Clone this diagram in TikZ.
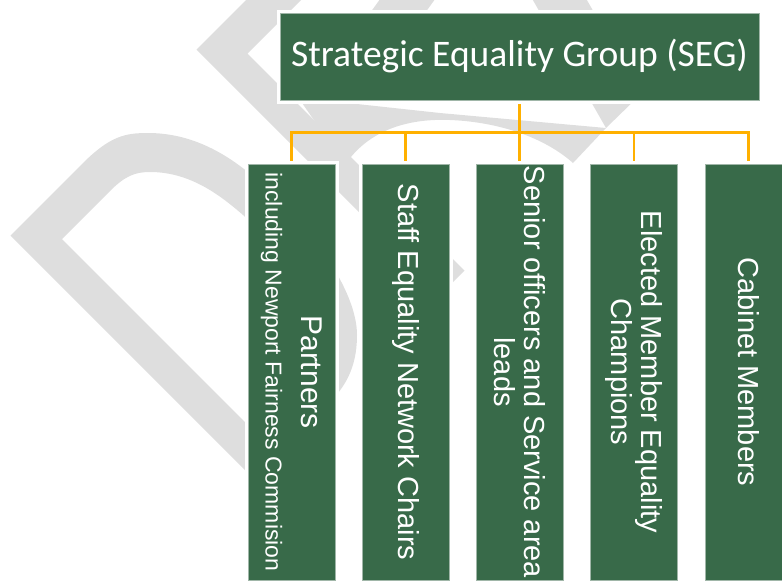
\documentclass[tikz,border=0pt]{standalone}
\usepackage{fontspec}
\setmainfont{Liberation Sans}
\newfontfamily\segfont{Carlito}
\definecolor{segGreen}{RGB}{56,106,73}
\definecolor{segEdge}{RGB}{160,182,168}
\definecolor{linkGold}{RGB}{255,176,0}
\definecolor{markGray}{RGB}{222,222,222}
\pgfdeclarelayer{background}
\pgfsetlayers{background,main}

\begin{document}
\begin{tikzpicture}[x=1pt,y=-1pt]
\tikzstyle{box} = [fill=segGreen,draw=segEdge,line width=0.6pt,preaction={draw=white,line width=7pt},text=white,inner sep=0pt]
\tikzstyle{col} = [box,rotate=-90,minimum width=416pt,minimum height=87pt,align=center,font=\fontsize{29}{30}\selectfont]
\tikzstyle{link} = [draw=linkGold,line width=2.6pt]
\useasboundingbox (0,0) rectangle (782,582);

%%%%%% Top box
\node[box,minimum width=479pt,minimum height=87pt,font=\segfont\fontsize{37.5}{40}\selectfont] (seg) at (519.5,56.5) {Strategic Equality Group (SEG)};

%%%%%% Columns
\node[col] (c1) at (291.5,372) {{\fontsize{30}{30}\selectfont Partners}\\[6pt]{\fontsize{23}{30}\selectfont including Newport Fairness Commision}};
\node[col] (c2) at (405.5,372) {Staff Equality Network Chairs};
\node[col] (c3) at (519.5,372) {Senior officers and Service area\\leads};
\node[col] (c4) at (634,372) {Elected Member Equality\\Champions};
\node[col] (c5) at (748.5,372) {Cabinet Members};

\begin{pgfonlayer}{background}
%%%%%% Watermark
\begin{scope}
\clip (0,0) rectangle (782,582);
% D
\fill[markGray,even odd rule] (10.5,235.5) -- (82,164) .. controls (110,136) and (125,133) .. (148,133) .. controls (190,133) and (225,152) .. (255,178) .. controls (310,225) and (357,290) .. (357,335) .. controls (357,360) and (350,378) .. (338,393) -- (255,480) -- cycle
  (62,239) -- (110,191) .. controls (125,176) and (135,172) .. (150,172) .. controls (190,172) and (220,195) .. (243,215) .. controls (275,245) and (305,300) .. (303,340) .. controls (302,360) and (296,375) .. (285,395) -- (251.5,428.5) -- cycle;
% R
\fill[markGray] (196.5,49.5) -- (251,-5) -- (306,-5) -- (247.5,53.5) -- (464.5,270.5) -- (441,294) -- cycle;
\fill[markGray] (383,-5) -- (438,-5) -- (420,20) -- (365,20) -- cycle;
\fill[markGray] (300,100) -- (357,104) -- (440,113) -- (606,128) -- (573,163) .. controls (545,138) and (500,122) .. (450,120) .. controls (400,118) and (365,135) .. (345,165) -- cycle;
% A
\fill[markGray] (530,-5) -- (606,128) -- (641,94) -- (584,-5) -- cycle;
\end{scope}

%%%%%% Links
\foreach \c in {c1,c2,c3,c4,c5}
  \draw[link] (seg.south) -- ++(0,32) -| (\c.west);
\end{pgfonlayer}
\end{tikzpicture}
\end{document}
